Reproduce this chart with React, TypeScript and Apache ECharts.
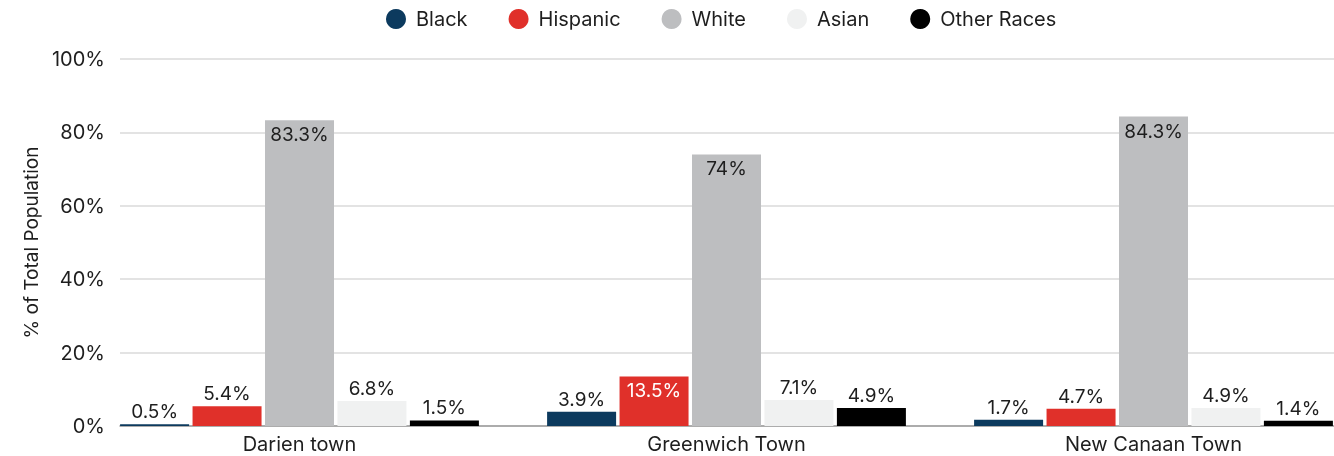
import React, { useEffect, useRef } from "react";
import * as echarts from "echarts";

const categories = ["Darien town", "Greenwich Town", "New Canaan Town"];
const seriesNames = ["Black", "Hispanic", "White", "Asian", "Other Races"];
const black = [0.5, 3.9, 1.7];
const hispanic = [5.4, 13.5, 4.7];
const white = [83.3, 74, 84.3];
const asian = [6.8, 7.1, 4.9];
const otherRaces = [1.5, 4.9, 1.4];
const yTicks = [0, 20, 40, 60, 80, 100];

const colors = ["#0c3a5e", "#e0302a", "#bdbec0", "#f0f1f1", "#000000"];
const FONT = "Inter";
const TEXT = "#1e1e1e";

export default function App() {
  const ref = useRef<HTMLDivElement>(null);
  useEffect(() => {
    if (!ref.current) return;
    const chart = echarts.init(ref.current, undefined, { renderer: "svg" });
    const values = [black, hispanic, white, asian, otherRaces];
    const series = values.map((arr, i) => ({
      name: seriesNames[i],
      type: "bar",
      xAxisIndex: 1,
      yAxisIndex: 1,
      barWidth: 69,
      barGap: "5%",
      itemStyle: { color: colors[i] },
      data: arr.map((v) => {
        const inside = v >= 10;
        return {
          value: v,
          label: {
            show: true,
            position: inside ? "insideTop" : "top",
            distance: inside ? 5 : 3,
            color: inside && i === 1 ? "#ffffff" : TEXT,
            fontFamily: FONT,
            fontSize: 19,
            formatter: () => `${v}%`,
          },
        };
      }),
    }));
    chart.setOption({
      animation: false,
      textStyle: { fontFamily: FONT },
      legend: {
        data: seriesNames,
        left: 386,
        top: 9,
        padding: 0,
        icon: "circle",
        itemWidth: 20,
        itemHeight: 20,
        itemGap: 41,
        textStyle: {
          fontFamily: FONT,
          fontSize: 20,
          color: TEXT,
          padding: [0, 0, 0, 5],
        },
      },
      grid: [
        { left: 120, right: 33, top: 59, bottom: 30 },
        { left: 86, right: 0, top: 59, bottom: 30 },
      ],
      xAxis: [
        {
          type: "value",
          gridIndex: 0,
          min: 0,
          max: 1,
          axisLine: { show: true, onZero: false, lineStyle: { color: "#9a9a9a", width: 1.5 } },
          axisTick: { show: false },
          axisLabel: { show: false },
          splitLine: { show: false },
        },
        {
          type: "category",
          gridIndex: 1,
          data: categories,
          axisLine: { show: false },
          axisTick: { show: false },
          axisLabel: {
            fontFamily: FONT,
            fontSize: 20,
            lineHeight: 20,
            color: TEXT,
            margin: 8,
          },
        },
      ],
      yAxis: [
        {
          type: "value",
          gridIndex: 0,
          min: 0,
          max: 100,
          interval: 20,
          name: "% of Total Population",
          nameLocation: "middle",
          nameGap: 79,
          nameTextStyle: { fontFamily: FONT, fontSize: 19, color: TEXT },
          axisLine: { show: false },
          axisTick: { show: false },
          axisLabel: {
            fontFamily: FONT,
            fontSize: 20,
            color: TEXT,
            margin: 15,
            formatter: (v: number) => (yTicks.includes(v) ? `${v}%` : ""),
          },
          splitLine: { lineStyle: { color: "#dadada", width: 1.5 } },
        },
        {
          type: "value",
          gridIndex: 1,
          min: 0,
          max: 100,
          show: false,
          splitLine: { show: false },
        },
      ],
      series,
    });
    return () => chart.dispose();
  }, []);
  return (
    <div
      style={{
        position: "fixed",
        left: 0,
        top: 0,
        width: 1334,
        height: 456,
        overflow: "hidden",
      }}
    >
      <div ref={ref} style={{ width: 1367, height: 456 }} />
    </div>
  );
}
